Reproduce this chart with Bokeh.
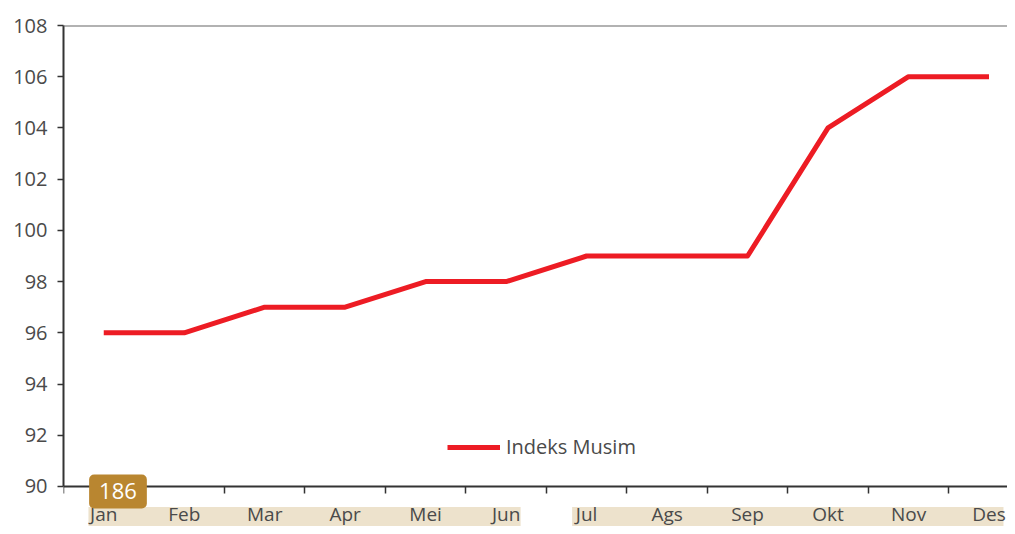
from bokeh.plotting import figure
from bokeh.models import FixedTicker, Span, Label, BoxAnnotation, Range1d
from bokeh.embed import file_html
from bokeh.resources import INLINE

# ---- data ----
months = ["Jan", "Feb", "Mar", "Apr", "Mei", "Jun", "Jul", "Ags", "Sep", "Okt", "Nov", "Des"]
indeks_musim = [96, 96, 97, 97, 98, 98, 99, 99, 99, 104, 106, 106]
y_ticks = [90, 92, 94, 96, 98, 100, 102, 104, 106, 108]
series_name = "Indeks Musim"
page_number = "186"

FONT = "Open Sans"
TEXT = "#4a4a4a"
AXIS = "#333333"

xs = list(range(len(months)))
boundaries = [i - 0.5 for i in range(len(months) + 1)]

p = figure(width=1007, height=526, output_backend="svg", toolbar_location=None,
           x_range=Range1d(-0.5, 11.23), y_range=Range1d(88.438, 108),
           min_border_top=25, min_border_left=63, min_border_right=0, min_border_bottom=0)
p.outline_line_color = None
p.grid.grid_line_color = None
p.background_fill_color = "white"

line = p.line(xs, indeks_musim, line_color="#ED1C24", line_width=5,
              line_join="round", legend_label=series_name)

# x axis: drawn at y=90, labels at centers, ticks at boundaries
xa = p.xaxis[0]
xa.fixed_location = 90
xa.ticker = FixedTicker(ticks=xs, minor_ticks=boundaries)
xa.major_label_overrides = {i: m for i, m in enumerate(months)}
xa.major_tick_line_color = None
xa.major_tick_out = 0
xa.major_tick_in = 0
xa.minor_tick_line_color = AXIS
xa.minor_tick_line_width = 1.5
xa.minor_tick_out = 7
xa.minor_tick_in = 0
xa.axis_line_color = AXIS
xa.axis_line_width = 2
xa.major_label_text_font = FONT
xa.major_label_text_font_size = "19px"
xa.major_label_text_color = TEXT
xa.major_label_standoff = 8

ya = p.yaxis[0]
ya.bounds = (90, 108)
ya.ticker = FixedTicker(ticks=y_ticks, minor_ticks=[])
ya.major_tick_out = 6
ya.major_tick_in = 0
ya.major_tick_line_color = AXIS
ya.major_tick_line_width = 1.5
ya.axis_line_color = AXIS
ya.axis_line_width = 2
ya.major_label_text_font = FONT
ya.major_label_text_font_size = "20px"
ya.major_label_text_color = TEXT
ya.major_label_standoff = 10

# top border line
p.add_layout(Span(location=108, dimension="width", line_color="#666666", line_width=2))

# legend
lg = p.legend[0]
lg.location = (384, 66)
lg.glyph_width = 53
lg.glyph_height = 20
lg.label_standoff = 6
lg.padding = 0
lg.margin = 0
lg.border_line_color = None
lg.background_fill_alpha = 0
lg.label_text_font = FONT
lg.label_text_font_size = "20px"
lg.label_text_color = TEXT

# beige highlight bands behind the x labels
p.add_layout(BoxAnnotation(left=-0.19, right=5.18, bottom=80, top=89.2,
                           fill_color="#EDE2CC", fill_alpha=1, line_color=None, level="underlay"))
p.add_layout(BoxAnnotation(left=5.82, right=11.18, bottom=80, top=89.2,
                           fill_color="#EDE2CC", fill_alpha=1, line_color=None, level="underlay"))

# page-number badge
p.add_layout(Label(x=0.177, y=89.805, text=page_number, text_align="center", text_baseline="middle",
                   text_font=FONT, text_font_size="22px", text_color="white",
                   background_fill_color="#B98630", background_fill_alpha=1,
                   padding=(10, 9), border_radius=5))

open("out.html", "w").write(file_html(p, INLINE))
